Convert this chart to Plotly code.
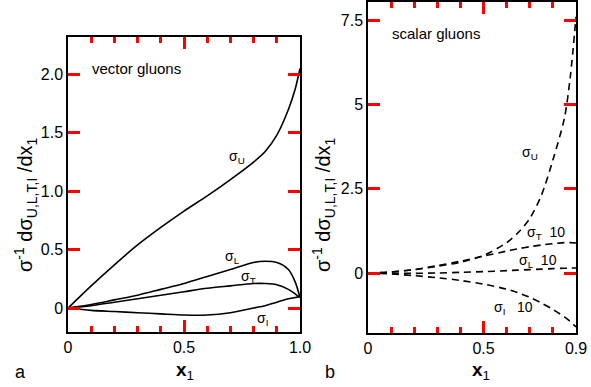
import plotly.graph_objects as go

# ---- data: vector gluons (panel a) ----
xa = [0, 0.1, 0.2, 0.3, 0.4, 0.5, 0.6, 0.7, 0.8, 0.85, 0.9, 0.95, 0.98, 1.0]
vec_U = [0, 0.19, 0.37, 0.54, 0.69, 0.83, 0.96, 1.10, 1.25, 1.34, 1.48, 1.70, 1.88, 2.05]
vec_L = [0, 0.03, 0.07, 0.11, 0.16, 0.21, 0.27, 0.33, 0.39, 0.40, 0.39, 0.33, 0.22, 0.09]
vec_T = [0, 0.02, 0.05, 0.08, 0.11, 0.14, 0.17, 0.19, 0.21, 0.21, 0.20, 0.16, 0.12, 0.09]
vec_I = [0, -0.02, -0.03, -0.04, -0.05, -0.06, -0.06, -0.04, 0.0, 0.02, 0.05, 0.08, 0.09, 0.10]

# ---- data: scalar gluons (panel b) ----
xb = [0, 0.1, 0.2, 0.3, 0.4, 0.5, 0.6, 0.65, 0.7, 0.75, 0.8, 0.85, 0.875, 0.9]
sca_U = [0, 0.03, 0.10, 0.20, 0.32, 0.52, 0.90, 1.20, 1.62, 2.30, 3.35, 4.60, 5.80, 7.60]
sca_T10 = [0, 0.03, 0.10, 0.22, 0.35, 0.50, 0.65, 0.72, 0.78, 0.83, 0.87, 0.90, 0.90, 0.89]
sca_L10 = [0, -0.01, -0.01, 0.0, 0.02, 0.04, 0.07, 0.085, 0.10, 0.115, 0.13, 0.14, 0.145, 0.15]
sca_I10 = [0, -0.03, -0.08, -0.14, -0.22, -0.33, -0.48, -0.59, -0.72, -0.89, -1.08, -1.30, -1.44, -1.60]

# tick positions / labels
xa_ticks = [0, 0.1, 0.2, 0.3, 0.4, 0.5, 0.6, 0.7, 0.8, 0.9, 1.0]
xa_ticktext = ["0", "", "", "", "", "0.5", "", "", "", "", "1.0"]
xb_ticks = [0, 0.1, 0.2, 0.3, 0.4, 0.5, 0.6, 0.7, 0.8, 0.9]
xb_ticktext = ["0", "", "", "", "", "0.5", "", "", "", "0.9"]
x_major = [0.5]
ya_ticks = [0, 0.5, 1.0, 1.5, 2.0]
ya_ticktext = ["0", "0.5", "1.0", "1.5", "2.0"]
yb_ticks = [0, 2.5, 5, 7.5]
yb_ticktext = ["0", "2.5", "5", "7.5"]

W, H = 591, 387
FONT = "Liberation Sans"
TICKC = "red"

fig = go.Figure()
line_solid = dict(color="black", width=1.6)
line_dash = dict(color="black", width=1.6, dash="7px,5px")

for ys in (vec_U, vec_L, vec_T, vec_I):
    fig.add_trace(go.Scatter(x=xa, y=ys, mode="lines", line=dict(shape="spline", smoothing=0.8, **line_solid),
                             xaxis="x", yaxis="y", showlegend=False, hoverinfo="skip"))
for ys in (sca_U, sca_T10, sca_L10, sca_I10):
    fig.add_trace(go.Scatter(x=xb, y=ys, mode="lines", line=dict(shape="spline", smoothing=0.8, **line_dash),
                             xaxis="x2", yaxis="y2", showlegend=False, hoverinfo="skip"))

def xaxis(domain, rng, tv, tt, anchor):
    return dict(domain=domain, range=rng, anchor=anchor, tickmode="array", tickvals=tv, ticktext=tt,
                ticks="inside", ticklen=6, tickwidth=3, tickcolor=TICKC,
                showline=True, linecolor="black", linewidth=1.5, mirror="ticks",
                showgrid=False, zeroline=False, automargin=False,
                tickfont=dict(family=FONT, size=16, color="black"))

def xlong(domain, rng, anchor, over):
    return dict(domain=domain, range=rng, anchor=anchor, overlaying=over, tickmode="array",
                tickvals=x_major, ticks="inside", ticklen=12, tickwidth=3, tickcolor=TICKC,
                showticklabels=False, showline=True, linecolor="black", linewidth=1.5,
                mirror="ticks", showgrid=False, zeroline=False, automargin=False)

def yaxis(domain, rng, tv, tt, anchor):
    return dict(domain=domain, range=rng, anchor=anchor, tickmode="array", tickvals=tv, ticktext=tt,
                ticks="inside", ticklen=12, tickwidth=3, tickcolor=TICKC,
                showline=True, linecolor="black", linewidth=1.5, mirror="ticks",
                showgrid=False, zeroline=False, automargin=False,
                tickfont=dict(family=FONT, size=16, color="black"))

dA = [68 / W, 300 / W]
dB = [368 / W, 576 / W]
fig.update_layout(
    width=W, height=H, margin=dict(l=0, r=0, t=0, b=0, autoexpand=False),
    paper_bgcolor="white", plot_bgcolor="white",
    xaxis=xaxis(dA, [0, 1.0], xa_ticks, xa_ticktext, "y"),
    yaxis=yaxis([1 - 332 / H, 1 - 37 / H], [-0.205, 2.32], ya_ticks, ya_ticktext, "x"),
    xaxis2=xaxis(dB, [0, 0.9], xb_ticks, xb_ticktext, "y2"),
    yaxis2=yaxis([1 - 333 / H, 1 - 2 / H], [-1.78, 8.04], yb_ticks, yb_ticktext, "x2"),
    xaxis3=xlong(dA, [0, 1.0], "y", "x"),
    xaxis4=xlong(dB, [0, 0.9], "y2", "x2"),
)
fig.add_trace(go.Scatter(x=[0.5], y=[0], xaxis="x3", yaxis="y", mode="markers",
                         marker=dict(opacity=0), showlegend=False, hoverinfo="skip"))
fig.add_trace(go.Scatter(x=[0.5], y=[0], xaxis="x4", yaxis="y2", mode="markers",
                         marker=dict(opacity=0), showlegend=False, hoverinfo="skip"))

ann_font = dict(family=FONT, size=14, color="black")
ytitle = "σ<sup>-1</sup> dσ<sub>U,L,T,I</sub> /dx<sub>1</sub>"
anns = [
    dict(x=0.095, y=2.05, xref="x", yref="y", text="vector gluons", xanchor="left", font=dict(family=FONT, size=15, color="black")),
    dict(x=0.73, y=1.29, xref="x", yref="y", text="σ<sub>U</sub>"),
    dict(x=0.71, y=0.44, xref="x", yref="y", text="σ<sub>L</sub>"),
    dict(x=0.78, y=0.27, xref="x", yref="y", text="σ<sub>T</sub>"),
    dict(x=0.84, y=-0.09, xref="x", yref="y", text="σ<sub>I</sub>"),
    dict(x=0.096, y=7.1, xref="x2", yref="y2", text="scalar gluons", xanchor="left", font=dict(family=FONT, size=15, color="black")),
    dict(x=0.70, y=3.56, xref="x2", yref="y2", text="σ<sub>U</sub>"),
    dict(x=0.77, y=1.19, xref="x2", yref="y2", text="σ<sub>T</sub>  10"),
    dict(x=0.735, y=0.36, xref="x2", yref="y2", text="σ<sub>L</sub>  10"),
    dict(x=0.63, y=-1.04, xref="x2", yref="y2", text="σ<sub>I</sub>   10"),
    dict(x=20 / W, y=1 - 372 / H, xref="paper", yref="paper", text="a", font=dict(family=FONT, size=18, color="black")),
    dict(x=330 / W, y=1 - 372 / H, xref="paper", yref="paper", text="b", font=dict(family=FONT, size=18, color="black")),
    dict(x=185 / W, y=1 - 371 / H, xref="paper", yref="paper", text="<b>x</b><sub>1</sub>", font=dict(family=FONT, size=19, color="black")),
    dict(x=481 / W, y=1 - 371 / H, xref="paper", yref="paper", text="<b>x</b><sub>1</sub>", font=dict(family=FONT, size=19, color="black")),
    dict(x=25 / W, y=1 - 205 / H, xref="paper", yref="paper", text=ytitle, textangle=-90, font=dict(family=FONT, size=20, color="black")),
    dict(x=323 / W, y=1 - 205 / H, xref="paper", yref="paper", text=ytitle, textangle=-90, font=dict(family=FONT, size=20, color="black")),
]
for a in anns:
    a.setdefault("font", ann_font)
    a.setdefault("xanchor", "center")
    a["yanchor"] = "middle"
    a["showarrow"] = False
fig.update_layout(annotations=anns)

fig.write_html("out.html", config={"displayModeBar": False},
               post_script="document.body.style.margin='0px';")
